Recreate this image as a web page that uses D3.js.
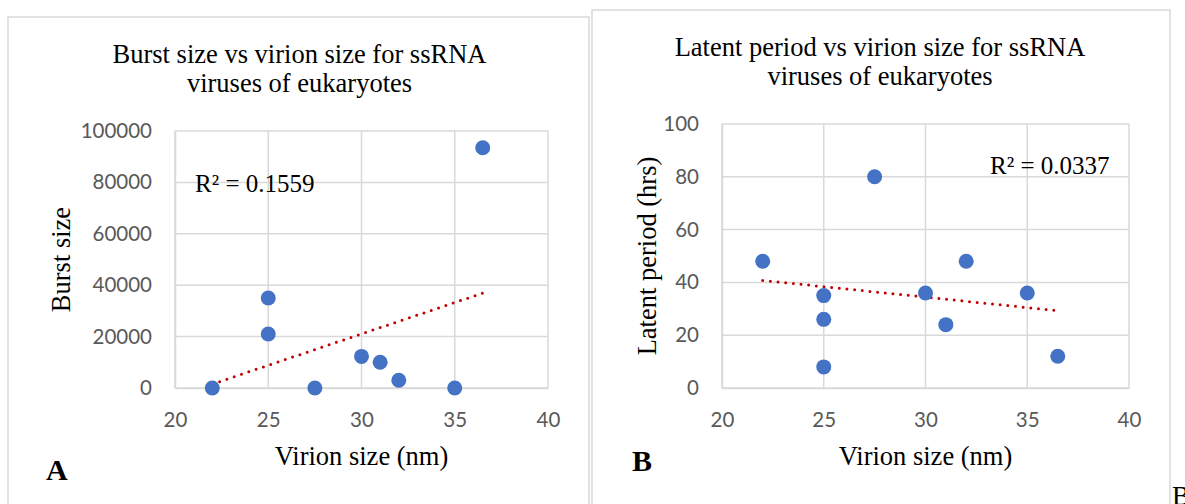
<!DOCTYPE html>
<html><head><meta charset="utf-8">
<script src="https://cdn.jsdelivr.net/npm/d3@7"></script>
<style>body{margin:0;background:#fff}svg{display:block}</style>
</head><body>
<svg id="c" width="1185" height="504"></svg>
<script>
// Panel A: burst size vs virion size
const virionA = [22, 25, 25, 27.5, 30, 31, 32, 35, 36.5];
const burstA  = [0, 35000, 21000, 0, 12300, 10000, 3000, 0, 93500];
// Panel B: latent period vs virion size
const virionB = [22, 25, 25, 25, 27.5, 30, 31, 32, 35, 36.5];
const latentB = [48, 35, 26, 8, 80, 36, 24, 48, 36, 12];

const xTicks = [20, 25, 30, 35, 40];
const yTicksA = [0, 20000, 40000, 60000, 80000, 100000];
const yTicksB = [0, 20, 40, 60, 80, 100];

const titlesA = ["Burst size vs virion size for ssRNA", "viruses of eukaryotes"];
const titlesB = ["Latent period vs virion size for ssRNA", "viruses of eukaryotes"];
const r2A = "R² = 0.1559", r2B = "R² = 0.0337";

const svg = d3.select("#c");
const serif = "'Liberation Serif','Times New Roman',serif";
const sans = "Lato,'Open Sans',sans-serif";
const grid = "#d9d9d9";

function fit(xs, ys){
  const mx = d3.mean(xs), my = d3.mean(ys);
  let sxy=0, sxx=0;
  xs.forEach((x,i)=>{sxy+=(x-mx)*(ys[i]-my); sxx+=(x-mx)*(x-mx);});
  const b = sxy/sxx, a = my - b*mx;
  return x => a + b*x;
}

function panel(cfg){
  const g = svg.append("g");
  g.append("rect").attr("x",cfg.frame[0]).attr("y",cfg.frame[1])
    .attr("width",cfg.frame[2]).attr("height",cfg.frame[3])
    .attr("fill","none").attr("stroke","#d9d9d9").attr("stroke-width",1.5);
  const x = d3.scaleLinear().domain([20,40]).range(cfg.xr);
  const y = d3.scaleLinear().domain(cfg.yd).range(cfg.yr);
  g.append("g").selectAll("line").data(cfg.yt).join("line")
    .attr("x1",cfg.xr[0]).attr("x2",cfg.xr[1])
    .attr("y1",d=>y(d)).attr("y2",d=>y(d))
    .attr("stroke",grid).attr("stroke-width",1.5);
  g.append("g").selectAll("line").data(xTicks).join("line")
    .attr("y1",cfg.yr[0]).attr("y2",cfg.yr[1])
    .attr("x1",d=>x(d)).attr("x2",d=>x(d))
    .attr("stroke",grid).attr("stroke-width",1.5);
  const ax = g.append("g").attr("transform",`translate(0,${cfg.yr[0]})`)
    .call(d3.axisBottom(x).tickValues(xTicks).tickSize(0).tickPadding(24));
  const ay = g.append("g").attr("transform",`translate(${cfg.xr[0]},0)`)
    .call(d3.axisLeft(y).tickValues(cfg.yt).tickSize(0).tickPadding(23).tickFormat(d3.format("d")));
  [ax,ay].forEach(a=>{
    a.select(".domain").attr("stroke",grid).attr("stroke-width",1.5);
    a.selectAll("text").attr("fill","#595959").style("font-family",sans).style("font-size","20.5px");
  });
  const f = fit(cfg.xs, cfg.ys);
  const ext = d3.extent(cfg.xs);
  g.append("line").attr("x1",x(ext[0])).attr("y1",y(f(ext[0])))
    .attr("x2",x(ext[1])).attr("y2",y(f(ext[1])))
    .attr("stroke","#c00000").attr("stroke-width",3)
    .attr("stroke-linecap","round").attr("stroke-dasharray","0 7.7");
  g.append("g").selectAll("circle").data(cfg.xs).join("circle")
    .attr("cx",d=>x(d)).attr("cy",(d,i)=>y(cfg.ys[i])).attr("r",7.5)
    .attr("fill","#4472c4");
  cfg.titles.forEach((t,i)=>{
    g.append("text").attr("x",cfg.tx).attr("y",cfg.ty+i*29).attr("text-anchor","middle")
      .style("font-family",serif).style("font-size","26.5px").attr("fill","#000").text(t);
  });
  g.append("text").attr("x",(cfg.xr[0]+cfg.xr[1])/2).attr("y",465).attr("text-anchor","middle")
    .style("font-family",serif).style("font-size","26.5px").text("Virion size (nm)");
  g.append("text").attr("transform",`translate(${cfg.ylx},${(cfg.yr[0]+cfg.yr[1])/2}) rotate(-90)`)
    .attr("text-anchor","middle").style("font-family",serif).style("font-size","26.5px").text(cfg.ylab);
  g.append("text").attr("x",cfg.r2[0]).attr("y",cfg.r2[1])
    .style("font-family",serif).style("font-size","25px").text(cfg.r2t);
  g.append("text").attr("x",cfg.letter[0]).attr("y",cfg.letter[1])
    .style("font-family",serif).style("font-size","30px").style("font-weight","bold").text(cfg.lt);
}

panel({frame:[8,17,581,500], xr:[175,548], yr:[388,131], yd:[0,100000], yt:yTicksA,
  xs:virionA, ys:burstA, titles:titlesA, tx:299.5, ty:63, ylx:70, ylab:"Burst size",
  r2:[195,192], r2t:r2A, letter:[46,480], lt:"A"});
panel({frame:[592,10,578,500], xr:[722,1129], yr:[388,124], yd:[0,100], yt:yTicksB,
  xs:virionB, ys:latentB, titles:titlesB, tx:880, ty:56, ylx:656, ylab:"Latent period (hrs)",
  r2:[990,174], r2t:r2B, letter:[632,471], lt:"B"});

svg.append("text").attr("x",1172).attr("y",505).style("font-family",serif).style("font-size","27px").text("B");
</script>
</body></html>
